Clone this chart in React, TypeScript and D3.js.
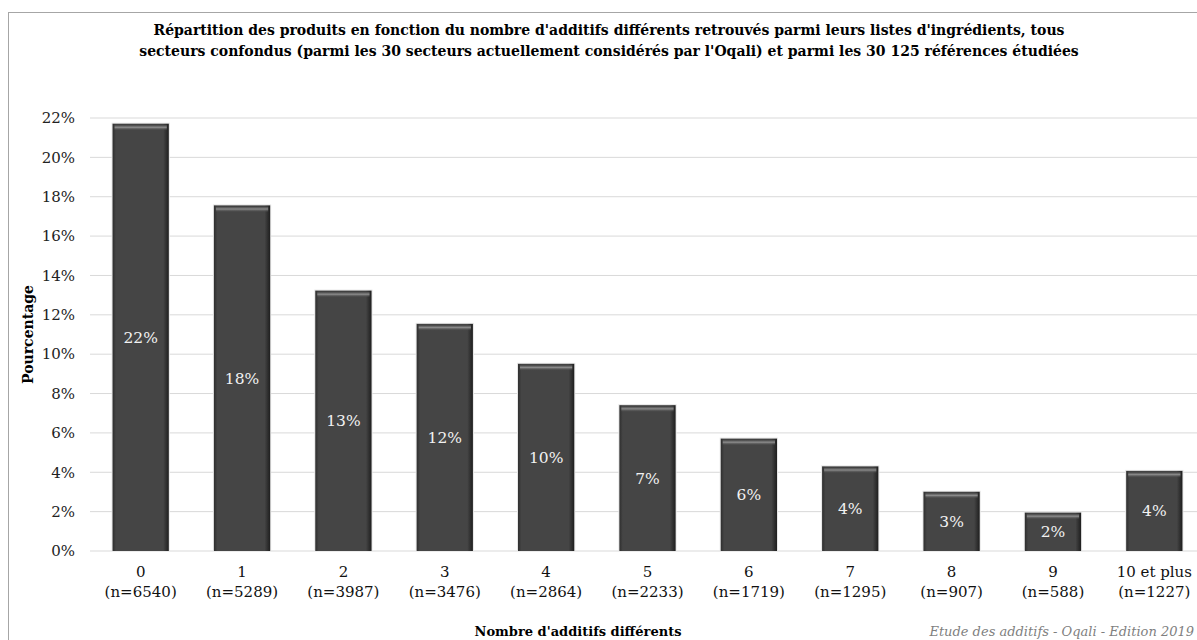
import * as d3 from "d3";
import * as React from "react";

const categories = ["0", "1", "2", "3", "4", "5", "6", "7", "8", "9", "10 et plus"];
const counts = [6540, 5289, 3987, 3476, 2864, 2233, 1719, 1295, 907, 588, 1227];
const percents = [21.71, 17.56, 13.23, 11.54, 9.51, 7.41, 5.71, 4.3, 3.01, 1.95, 4.07];
const barLabels = ["22%", "18%", "13%", "12%", "10%", "7%", "6%", "4%", "3%", "2%", "4%"];
const yTicks = [0, 2, 4, 6, 8, 10, 12, 14, 16, 18, 20, 22];

const titleLines = [
  "Répartition des produits en fonction du nombre d'additifs différents retrouvés parmi leurs listes d'ingrédients, tous",
  "secteurs confondus (parmi les 30 secteurs actuellement considérés par l'Oqali) et parmi les 30 125 références étudiées",
];

const W = 1197;
const H = 640;
const FONT = "'DejaVu Serif', 'Liberation Serif', serif";

export default function App() {
  const margin = { left: 90, right: -8, top: 118, bottom: 89 };
  const plotBottom = H - margin.bottom;

  const x = d3
    .scaleBand()
    .domain(categories)
    .range([margin.left, W - margin.right])
    .paddingInner(0.445)
    .paddingOuter(0.2225);

  const y = d3
    .scaleLinear()
    .domain([0, 22])
    .range([plotBottom, margin.top]);

  const bw = x.bandwidth();

  return (
    <svg
      width={W}
      height={H}
      style={{ position: "absolute", left: 0, top: 0, background: "#fff" }}
      fontFamily={FONT}
    >
      <defs>
        <linearGradient id="barSide" x1="0" x2="1" y1="0" y2="0">
          <stop offset="0" stopColor="#2e2e2e" />
          <stop offset="0.06" stopColor="#454545" />
          <stop offset="0.9" stopColor="#454545" />
          <stop offset="1" stopColor="#1e1e1e" />
        </linearGradient>
        <linearGradient id="barTop" x1="0" x2="0" y1="0" y2="1">
          <stop offset="0" stopColor="#3a3a3a" />
          <stop offset="0.45" stopColor="#8a8a8a" />
          <stop offset="1" stopColor="#454545" stopOpacity="0" />
        </linearGradient>
      </defs>

      <rect x={8.5} y={12.5} width={W + 20} height={H + 20} fill="#fff" stroke="#a6a6a6" />

      {titleLines.map((t, i) => (
        <text
          key={i}
          x={609}
          y={35 + i * 21}
          textAnchor="middle"
          fontWeight="bold"
          fontSize={14}
          fill="#000"
        >
          {t}
        </text>
      ))}

      {yTicks.map((t) => (
        <g key={t}>
          <line
            x1={margin.left}
            x2={W}
            y1={y(t)}
            y2={y(t)}
            stroke="#d9d9d9"
            strokeWidth={1}
          />
          <text
            x={75}
            y={y(t)}
            dy="0.35em"
            textAnchor="end"
            fontSize={15}
            fill="#222"
          >
            {t}%
          </text>
        </g>
      ))}

      {categories.map((c, i) => {
        const bx = x(c)!;
        const by = y(percents[i]);
        const bh = plotBottom - by;
        return (
          <g key={c}>
            <rect x={bx - 1} y={by - 1} width={bw + 2} height={bh + 1} fill="#e6e6e6" />
            <rect x={bx} y={by} width={bw} height={bh} fill="url(#barSide)" />
            <rect x={bx + 2} y={by + 1} width={bw - 4} height={6} fill="url(#barTop)" />
            <text
              x={bx + bw / 2}
              y={by + bh / 2}
              dy="0.35em"
              textAnchor="middle"
              fontSize={15.5}
              fill="#f2f2f2"
            >
              {barLabels[i]}
            </text>
            <text x={bx + bw / 2} y={577} textAnchor="middle" fontSize={15} fill="#111">
              {c}
            </text>
            <text x={bx + bw / 2} y={597} textAnchor="middle" fontSize={15} fill="#111">
              (n={counts[i]})
            </text>
          </g>
        );
      })}

      <text
        transform={`translate(33,${(margin.top + plotBottom) / 2}) rotate(-90)`}
        textAnchor="middle"
        fontWeight="bold"
        fontSize={14}
        fill="#000"
      >
        Pourcentage
      </text>

      <text x={578} y={636} textAnchor="middle" fontWeight="bold" fontSize={13} fill="#000">
        Nombre d'additifs différents
      </text>

      <text x={1194} y={636} textAnchor="end" fontStyle="italic" fontSize={13} fill="#7f7f7f">
        Etude des additifs - Oqali - Edition 2019
      </text>
    </svg>
  );
}
